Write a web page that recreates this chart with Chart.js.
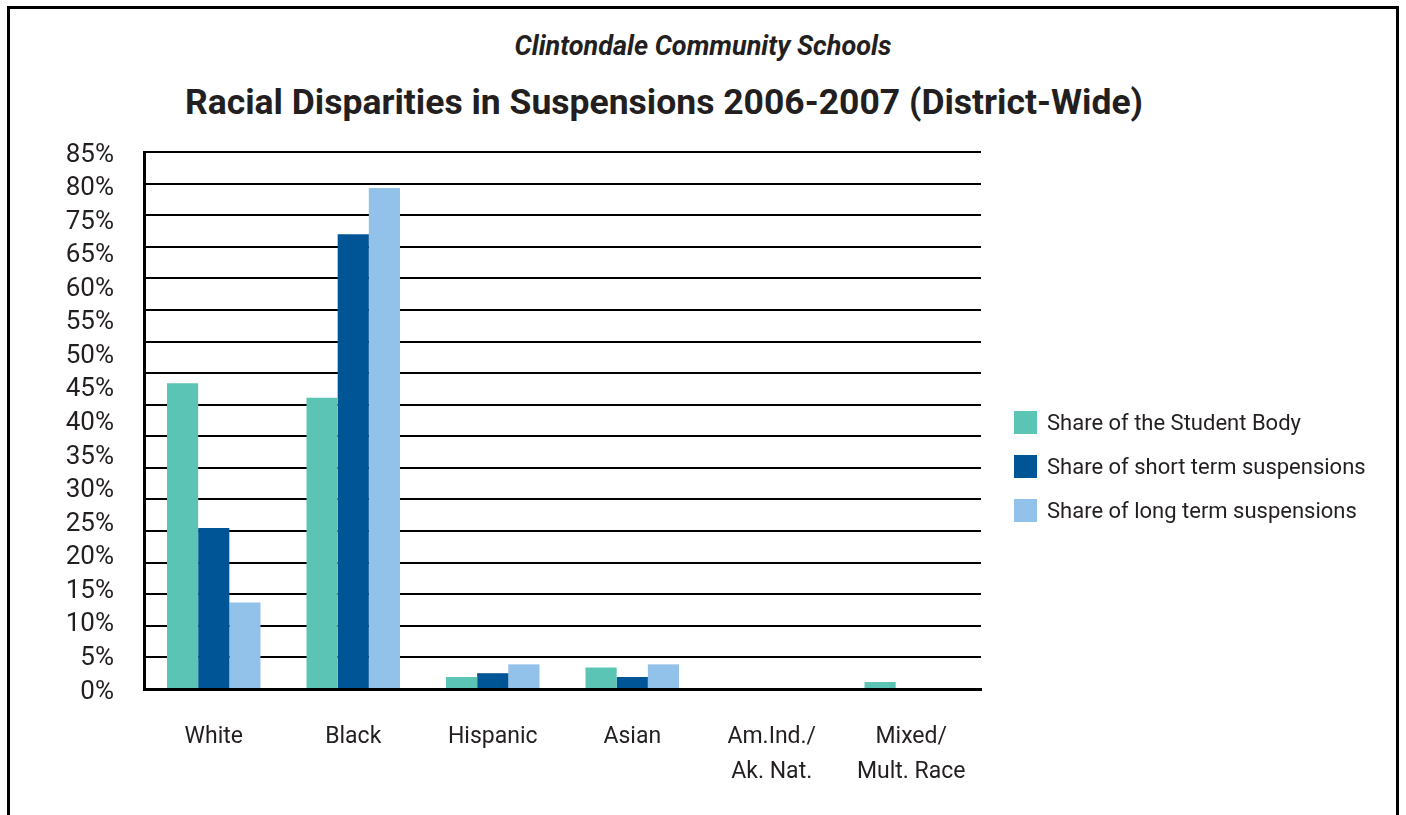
<!DOCTYPE html>
<html>
<head>
<meta charset="utf-8">
<script src="https://cdn.jsdelivr.net/npm/chart.js@4.4.1/dist/chart.umd.min.js"></script>
<style>
  html, body { margin: 0; padding: 0; background: #fff; }
  body { width: 1406px; height: 815px; position: relative; overflow: hidden; font-family: Roboto, "Noto Sans", sans-serif; color: #231f20; }
  #frame { position: absolute; left: 7px; top: 6px; width: 1392px; height: 830px; border: 3px solid #000; border-bottom: none; box-sizing: border-box; }
  #wrap { position: absolute; left: 0; top: 0; width: 1406px; height: 815px; }
  .sub { position: absolute; top: 30px; left: 403px; width: 600px; text-align: center; font-size: 27px; font-weight: 700; font-style: italic; }
  .ttl { position: absolute; top: 81px; left: 164px; width: 1000px; text-align: center; font-size: 35.5px; font-weight: 700; }
  #legend { position: absolute; left: 1014px; top: 411px; }
  .li { display: flex; align-items: center; height: 23px; margin-bottom: 21px; font-size: 22px; }
  .li span.box { width: 23px; height: 23px; margin-right: 10px; }
</style>
</head>
<body>
<div id="frame"></div>
<div class="sub">Clintondale Community Schools</div>
<div class="ttl">Racial Disparities in Suspensions 2006-2007 (District-Wide)</div>
<div id="wrap"><canvas id="c" width="1406" height="815"></canvas></div>
<div id="legend"></div>
<script>
// ── Data ──────────────────────────────────────────────
const categories = ['White', 'Black', 'Hispanic', 'Asian', ['Am.Ind./', 'Ak. Nat.'], ['Mixed/', 'Mult. Race']];
const studentBody = [48.4, 46.1, 1.9, 3.4, 0, 1.1];
const shortTerm   = [25.5, 72.0, 2.5, 1.9, 0, 0];
const longTerm    = [13.7, 79.3, 3.9, 3.9, 0, 0];
const yTickLabels = ['0%', '5%', '10%', '15%', '20%', '25%', '30%', '35%', '40%', '45%', '50%', '55%', '60%', '65%', '75%', '80%', '85%'];
const seriesNames = ['Share of the Student Body', 'Share of short term suspensions', 'Share of long term suspensions'];
const seriesColors = ['#5bc4b5', '#005596', '#92c1e9'];

const seriesData = [studentBody, shortTerm, longTerm];

const ctx = document.getElementById('c').getContext('2d');
new Chart(ctx, {
  type: 'bar',
  data: {
    labels: categories,
    datasets: seriesData.map((d, i) => ({
      label: seriesNames[i], data: d,
      backgroundColor: seriesColors[i], borderWidth: 0,
      categoryPercentage: 0.67, barPercentage: 1.0
    }))
  },
  options: {
    responsive: false, animation: false,
    layout: { padding: { left: 0, right: 425, top: 152, bottom: 0 } },
    plugins: { legend: { display: false }, tooltip: { enabled: false } },
    scales: {
      x: {
        grid: { display: false },
        border: { display: true, color: '#000', width: 3 },
        ticks: { color: '#231f20', font: { family: 'Roboto', size: 23, lineHeight: 1.55 }, padding: 22, maxRotation: 0 },
        afterFit: s => { s.height = 126; }
      },
      y: {
        min: 0, max: 85,
        ticks: { stepSize: 5, display: false },
        grid: { color: '#000', lineWidth: 2, drawTicks: false },
        border: { display: true, color: '#000', width: 3 },
        afterFit: s => { s.width = 0; }
      },
      y2: {
        position: 'left', min: 0, max: 80,
        grid: { display: false, drawTicks: false },
        border: { display: false },
        ticks: {
          stepSize: 5, autoSkip: false, padding: 30, labelOffset: 3, color: '#231f20',
          font: { family: 'Roboto', size: 26 },
          callback: (v, i) => yTickLabels[i]
        },
        afterFit: s => { s.width = 144; }
      }
    }
  }
});

// legend built from the series arrays
document.getElementById('legend').innerHTML = seriesNames.map((n, i) => `
  <div class="li"><span class="box" style="background:${seriesColors[i]}"></span>${n}</div>
`).join('');
</script>
</body>
</html>
